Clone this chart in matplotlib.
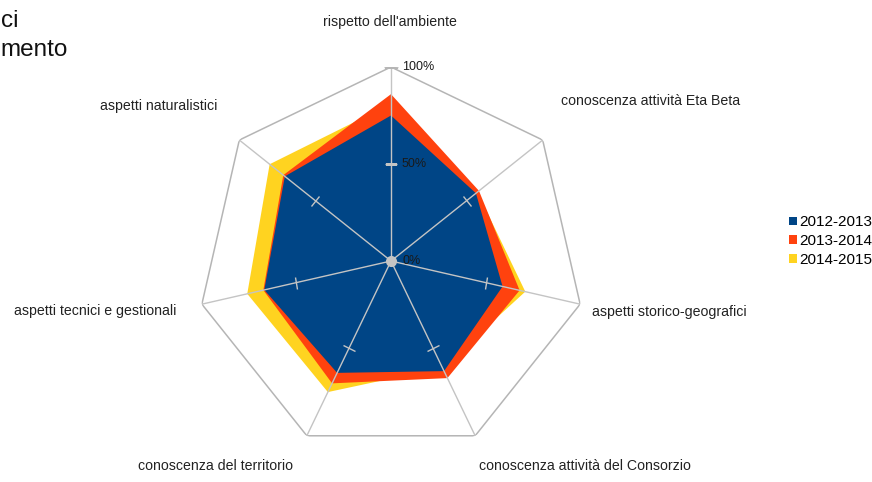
import numpy as np
import matplotlib
matplotlib.use("Agg")
import matplotlib.pyplot as plt
from matplotlib.markers import MarkerStyle
from matplotlib.patches import Patch
from matplotlib.transforms import Affine2D

plt.rcParams["font.family"] = ["Liberation Sans", "DejaVu Sans"]

# data (fraction of 100%)
categories = [
    "rispetto dell'ambiente",
    "conoscenza attività Eta Beta",
    "aspetti storico-geografici",
    "conoscenza attività del Consorzio",
    "conoscenza del territorio",
    "aspetti tecnici e gestionali",
    "aspetti naturalistici",
]
years = ["2012-2013", "2013-2014", "2014-2015"]
vals_2012 = [0.75, 0.56, 0.59, 0.63, 0.64, 0.67, 0.70]
vals_2013 = [0.86, 0.58, 0.68, 0.67, 0.70, 0.675, 0.71]
vals_2014 = [0.81, 0.57, 0.71, 0.61, 0.75, 0.76, 0.80]
radial_ticks = [0.0, 0.5, 1.0]
radial_labels = ["0%", "50%", "100%"]

colors = ["#004586", "#ff420e", "#ffd320"]
grid_col = "#b5b5b5"
spoke_col = "#c4c4c4"
text_col = "#222222"

W, H = 872, 482
fig = plt.figure(figsize=(W / 100, H / 100), dpi=100)

# polar area: centre (391, 261) px, radius 194 px
cx, cy, R = 391, 261, 194
ax = fig.add_axes([(cx - R) / W, (H - cy - R) / H, 2 * R / W, 2 * R / H],
                  projection="polar")
ax.set_theta_zero_location("N")
ax.set_theta_direction(-1)
ax.set_ylim(0, 1)
ax.axis("off")

n = len(categories)
theta = np.linspace(0, 2 * np.pi, n, endpoint=False)
theta_c = np.append(theta, theta[0])


def closed(v):
    return np.append(v, v[0])


# series, largest behind
for vals, col, z in [(vals_2014, colors[2], 1), (vals_2013, colors[1], 2),
                     (vals_2012, colors[0], 3)]:
    ax.fill(theta_c, closed(vals), color=col, lw=0, zorder=z)

# outer heptagon and spokes
ax.plot(theta_c, np.ones(n + 1), color=grid_col, lw=1.1, zorder=4)
for t in theta:
    ax.plot([t, t], [0, 1], color=spoke_col, lw=1.0, zorder=4)
    mk = MarkerStyle("_", transform=Affine2D().rotate_deg(-np.degrees(t)))
    ax.plot([t], [0.5], marker=mk, ms=9, mew=1.0, color=spoke_col, zorder=5)
ax.plot([0], [1.0], marker="_", ms=10, mew=1.0, color=grid_col, zorder=5)
ax.plot([0], [0], marker="o", ms=8, color="#c4c4c4", mec="none", zorder=6)

# radial labels on the first spoke
for r, lab in zip(radial_ticks, radial_labels):
    y = (H - cy + r * R) / H
    fig.text((cx + 11) / W, y, lab, fontsize=9, color="#1a1a1a",
             ha="left", va="center", zorder=10)

# category labels
label_pos = [(390, 22), (651, 101), (669, 312), (585, 466),
             (215, 466), (95, 311), (159, 106)]
for lab, (px, py) in zip(categories, label_pos):
    fig.text(px / W, 1 - py / H, lab, fontsize=10.2, color=text_col,
             ha="center", va="center")

# cut-off title fragments at top-left
fig.text(1 / W, 1 - 27 / H, "ci", fontsize=17.5, color="#111111",
         ha="left", va="baseline")
fig.text(0, 1 - 56 / H, "mento", fontsize=17.5, color="#111111",
         ha="left", va="baseline")

handles = [Patch(facecolor=c, edgecolor="none") for c in colors]
fig.legend(handles, years, loc="center left",
           bbox_to_anchor=(789 / W, 1 - 241 / H), frameon=False,
           fontsize=11, handlelength=0.5, handleheight=0.5,
           handletextpad=0.15, labelspacing=0.3, borderaxespad=0,
           borderpad=0)

fig.savefig("out.png", dpi=100)
